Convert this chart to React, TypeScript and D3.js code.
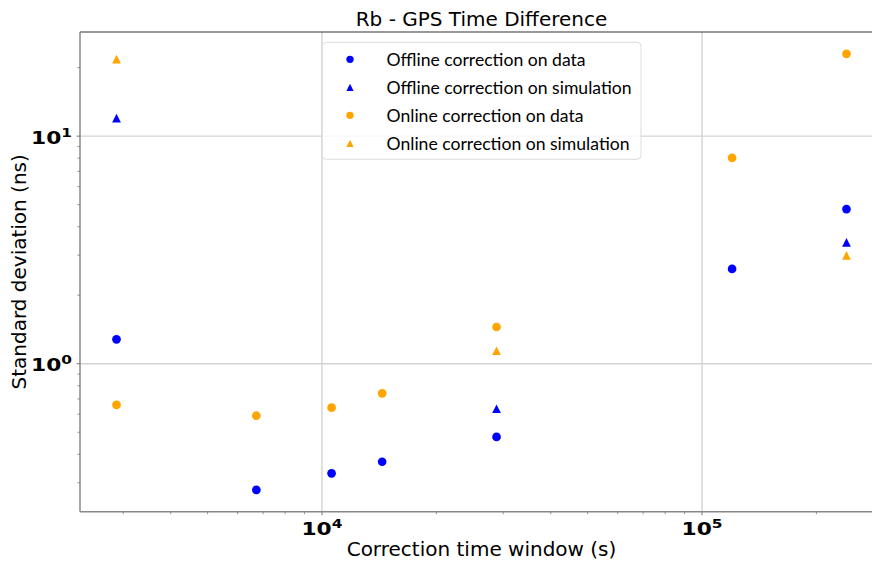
import React from "react";
import * as d3 from "d3";

const windows = [2880, 6720, 10600, 14400, 28800, 120000, 240000];
const offlineData = [1.28, 0.279, 0.33, 0.371, 0.477, 2.61, 4.78];
const onlineData = [0.659, 0.591, 0.641, 0.741, 1.45, 8.03, 23.0];
const simWindows = [2880, 28800, 240000];
const offlineSim = [12.0, 0.634, 3.41];
const onlineSim = [21.8, 1.14, 2.99];

const series = [
  { label: "Offline correction on data", color: "#0000ff", shape: "circle", xs: windows, ys: offlineData },
  { label: "Offline correction on simulation", color: "#0000ff", shape: "triangle", xs: simWindows, ys: offlineSim },
  { label: "Online correction on data", color: "#ffa500", shape: "circle", xs: windows, ys: onlineData },
  { label: "Online correction on simulation", color: "#ffa500", shape: "triangle", xs: simWindows, ys: onlineSim },
];

const W = 872;
const H = 562;
const L = 80, R = 883, T = 32, B = 511.7;

function logDomain(vals: number[]): [number, number] {
  const lo = Math.log10(d3.min(vals) as number);
  const hi = Math.log10(d3.max(vals) as number);
  const m = (hi - lo) * 0.05;
  return [Math.pow(10, lo - m), Math.pow(10, hi + m)];
}

function Marker({ shape, x, y, s, color }: { shape: string; x: number; y: number; s: number; color: string }) {
  if (shape === "circle") return <circle cx={x} cy={y} r={s / 2} fill={color} />;
  const h = s / 2;
  return <path d={`M${x},${y - h}L${x + h},${y + h}L${x - h},${y + h}Z`} fill={color} />;
}

function PowLabel({ x, y, exp, anchor }: { x: number; y: number; exp: number; anchor: string }) {
  return (
    <g transform={`translate(${x},${y}) scale(1.28,1)`}>
      <text x={0} y={0} textAnchor={anchor} fontFamily="'DejaVu Sans', sans-serif" fontWeight="bold" fontSize={17} fill="#000">
        10<tspan fontSize={12} dy={-7}>{exp}</tspan>
      </text>
    </g>
  );
}

export default function App() {
  const allX = series.flatMap((s) => s.xs);
  const allY = series.flatMap((s) => s.ys);
  const x = d3.scaleLog().domain(logDomain(allX)).range([L, R]);
  const y = d3.scaleLog().domain(logDomain(allY)).range([B, T]);

  const xTicks = x.ticks();
  const yTicks = y.ticks();
  const isMajor = (v: number) => Math.abs(Math.log10(v) - Math.round(Math.log10(v))) < 1e-9;
  const xMajor = xTicks.filter(isMajor);
  const yMajor = yTicks.filter(isMajor);
  const xMinor = xTicks.filter((v) => !isMajor(v));
  const yMinor = yTicks.filter((v) => !isMajor(v));

  const tickFont = "'DejaVu Sans', sans-serif";
  const legendFont = "Lato, 'Open Sans', sans-serif";

  return (
    <svg width={W} height={H} style={{ position: "absolute", left: 0, top: 0, background: "#fff" }}>
      <defs>
        <clipPath id="plot">
          <rect x={L} y={T} width={R - L} height={B - T} />
        </clipPath>
      </defs>
      <rect x={0} y={0} width={W} height={H} fill="#fff" />
      {/* grid */}
      {xMajor.map((v) => (
        <line key={"gx" + v} x1={x(v)} x2={x(v)} y1={T} y2={B} stroke="#d3d3d3" strokeWidth={1.4} />
      ))}
      {yMajor.map((v) => (
        <line key={"gy" + v} x1={L} x2={R} y1={y(v)} y2={y(v)} stroke="#d3d3d3" strokeWidth={1.4} />
      ))}
      {/* spines */}
      <line x1={L} x2={R} y1={T} y2={T} stroke="#333" strokeWidth={1.2} />
      <line x1={L} x2={L} y1={T} y2={B} stroke="#888" strokeWidth={1.5} />
      <line x1={L} x2={R} y1={B} y2={B} stroke="#888" strokeWidth={1.5} />
      {/* ticks */}
      {xMinor.map((v) => (
        <line key={"xm" + v} x1={x(v)} x2={x(v)} y1={B} y2={B + 2.5} stroke="#777" strokeWidth={0.8} />
      ))}
      {xMajor.map((v) => (
        <line key={"xM" + v} x1={x(v)} x2={x(v)} y1={B} y2={B + 3.5} stroke="#777" strokeWidth={1} />
      ))}
      {yMinor.map((v) => (
        <line key={"ym" + v} x1={L - 2.5} x2={L} y1={y(v)} y2={y(v)} stroke="#777" strokeWidth={0.8} />
      ))}
      {yMajor.map((v) => (
        <line key={"yM" + v} x1={L - 3.5} x2={L} y1={y(v)} y2={y(v)} stroke="#777" strokeWidth={1} />
      ))}
      {/* tick labels */}
      {xMajor.map((v) => (
        <PowLabel key={"xl" + v} x={x(v)} y={535} exp={Math.round(Math.log10(v))} anchor="middle" />
      ))}
      {yMajor.map((v) => (
        <PowLabel key={"yl" + v} x={72} y={y(v) + 7.5} exp={Math.round(Math.log10(v))} anchor="end" />
      ))}
      {/* data */}
      <g clipPath="url(#plot)">
        {series.map((s, si) =>
          s.xs.map((xv, i) => (
            <Marker key={si + "-" + i} shape={s.shape} x={x(xv)} y={y(s.ys[i])} s={8.7} color={s.color} />
          ))
        )}
      </g>
      {/* legend */}
      <rect x={322.3} y={42.3} width={318.7} height={117} rx={4} fill="#fff" fillOpacity={0.8} stroke="#dcdcdc" strokeWidth={1} />
      {series.map((s, i) => (
        <g key={"lg" + i}>
          <Marker shape={s.shape} x={350} y={59.3 + i * 28} s={7.3} color={s.color} />
          <text x={386.5} y={59.3 + i * 28 + 6.3} fontFamily={legendFont} fontSize={17.6} fill="#000">
            {s.label}
          </text>
        </g>
      ))}
      {/* titles */}
      <text x={(L + R) / 2} y={26} textAnchor="middle" fontFamily={tickFont} fontSize={20} fill="#000">
        Rb - GPS Time Difference
      </text>
      <text x={(L + R) / 2} y={556} textAnchor="middle" fontFamily={tickFont} fontSize={20} fill="#000">
        Correction time window (s)
      </text>
      <text transform={`translate(25.5,${(T + B) / 2}) rotate(-90)`} textAnchor="middle" fontFamily={tickFont} fontSize={20} fill="#000">
        Standard deviation (ns)
      </text>
    </svg>
  );
}
